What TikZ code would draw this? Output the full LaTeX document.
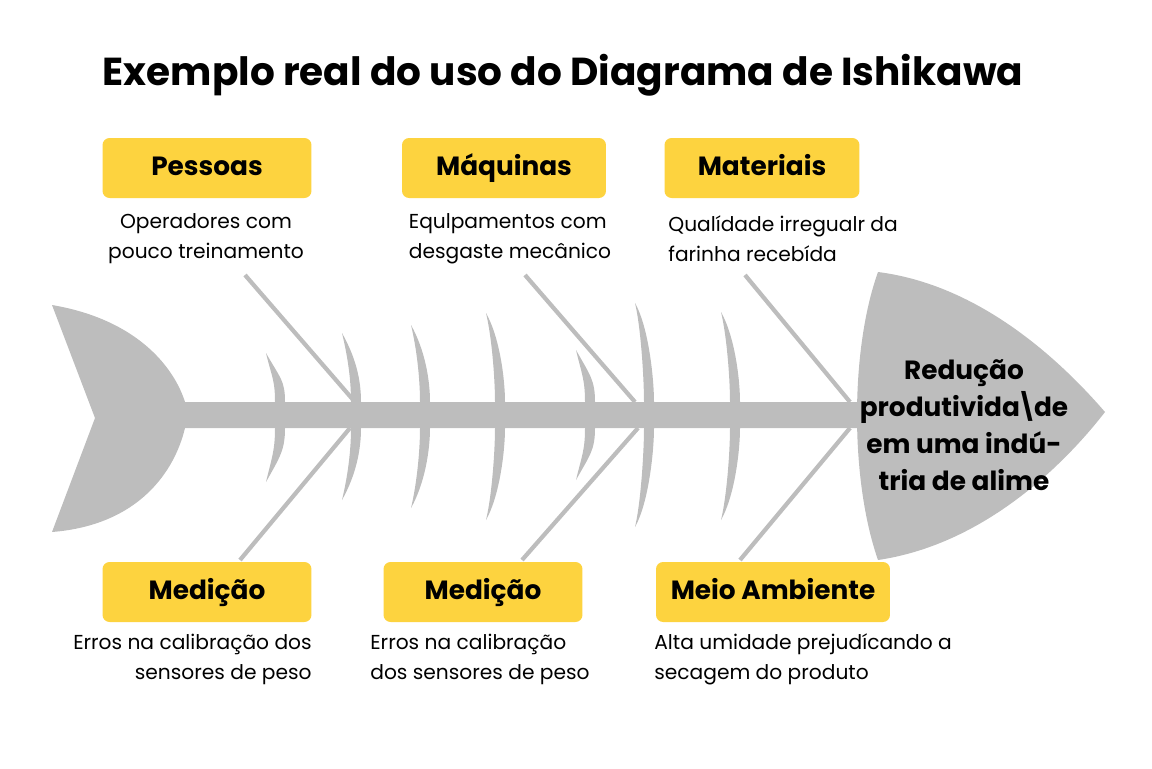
\documentclass[tikz,border=0pt]{standalone}
\usepackage{fontspec}
\setmainfont{Poppins}
\definecolor{bone}{HTML}{BDBDBD}
\definecolor{tag}{HTML}{FDD33F}
\begin{document}
\begin{tikzpicture}[
            x=0.02cm, y=-0.02cm,
            cat/.style={fill=tag, rounded corners=4pt, minimum height=1.2cm, text height=1.9ex, text depth=0.3ex, font=\fontsize{15}{18}\selectfont\bfseries},
            cause/.style={font=\fontsize{11.5}{17}\selectfont, inner sep=0pt},
            branch/.style={draw=bone, line width=2.4pt},
            rib/.style={fill=bone}
            ]
            \useasboundingbox (0,0) rectangle (1152,768);
            \node[font=\fontsize{22.2}{26}\selectfont\bfseries] (title) at (563,75) {Exemplo real do uso do Diagrama de Ishikawa};
            % fish body
            \fill[bone] (52,305) .. controls (140,320) and (175,370) .. (185,402) -- (870,402) -- (870,428) -- (185,428)
              .. controls (175,470) and (140,525) .. (52,532) -- (95,418) -- cycle;
            \fill[bone] (878,272) .. controls (980,285) and (1060,360) .. (1105,412)
              .. controls (1060,470) and (980,545) .. (878,560) .. controls (850,480) and (850,350) .. cycle;
            % ribs
            \foreach \x/\top/\bot in {274/353/482, 350/333/500, 419/325/508, 494/313/520, 584/350/480, 643/303/527, 729/312/520}{
              \fill[rib] (\x-8,\top) .. controls (\x+6,\top+25) and (\x+11,380) .. (\x+11,402) -- (\x+1,402)
                .. controls (\x+1,380) and (\x-2,\top+25) .. cycle;
              \fill[rib] (\x-8,\bot) .. controls (\x+6,\bot-25) and (\x+11,450) .. (\x+11,428) -- (\x+1,428)
                .. controls (\x+1,450) and (\x-2,\bot-25) .. cycle;
            }
            \node[font=\fontsize{15}{21}\selectfont\bfseries, align=center] (effect) at (964,425) {Redução\\produtivida\kern-2pt\textbackslash\kern-2pt de\\em uma indú-\\tria de alime};
            % categories
            \node[cat, minimum width=4.18cm] (pessoas) at (207,168) {Pessoas};
            \node[cat, minimum width=4.08cm] (maquinas) at (504,168) {Máquinas};
            \node[cat, minimum width=3.9cm] (materiais) at (762,168) {Materiais};
            \node[cat, minimum width=4.18cm] (medicao1) at (207,592) {Medição};
            \node[cat, minimum width=3.98cm] (medicao2) at (483,592) {Medição};
            \node[cat, minimum width=4.68cm] (meio) at (773,592) {Meio Ambiente};
            % causes
            \node[cause, align=center] (c1) at (206,239) {Operadores com\\pouco treinamento};
            \node[cause, align=left] (c2) at (510,239) {Equlpamentos com\\desgaste mecânico};
            \node[cause, align=left, anchor=west] (c3) at (668,239) {Qualídade irregualr da\\farinha recebída};
            \node[cause, align=right, anchor=east] (c4) at (312,659) {Erros na calibração dos\\sensores de peso};
            \node[cause, align=left, anchor=west] (c5) at (370,659) {Erros na calibração\\dos sensores de peso};
            \node[cause, align=left, anchor=west] (c6) at (654,659) {Alta umidade prejudícando a\\secagem do produto};
            % branches
            \coordinate (p1) at (245,275); \coordinate (q1) at (355,402);
            \coordinate (p2) at (525,275); \coordinate (q2) at (635,402);
            \coordinate (p3) at (745,275); \coordinate (q3) at (850,402);
            \coordinate (p4) at (240,560); \coordinate (q4) at (350,428);
            \coordinate (p5) at (522,560); \coordinate (q5) at (638,428);
            \coordinate (p6) at (740,560); \coordinate (q6) at (850,428);
            \foreach \i in {1,...,6} \draw[branch] (p\i) -- (q\i);
        \end{tikzpicture}
\end{document}
